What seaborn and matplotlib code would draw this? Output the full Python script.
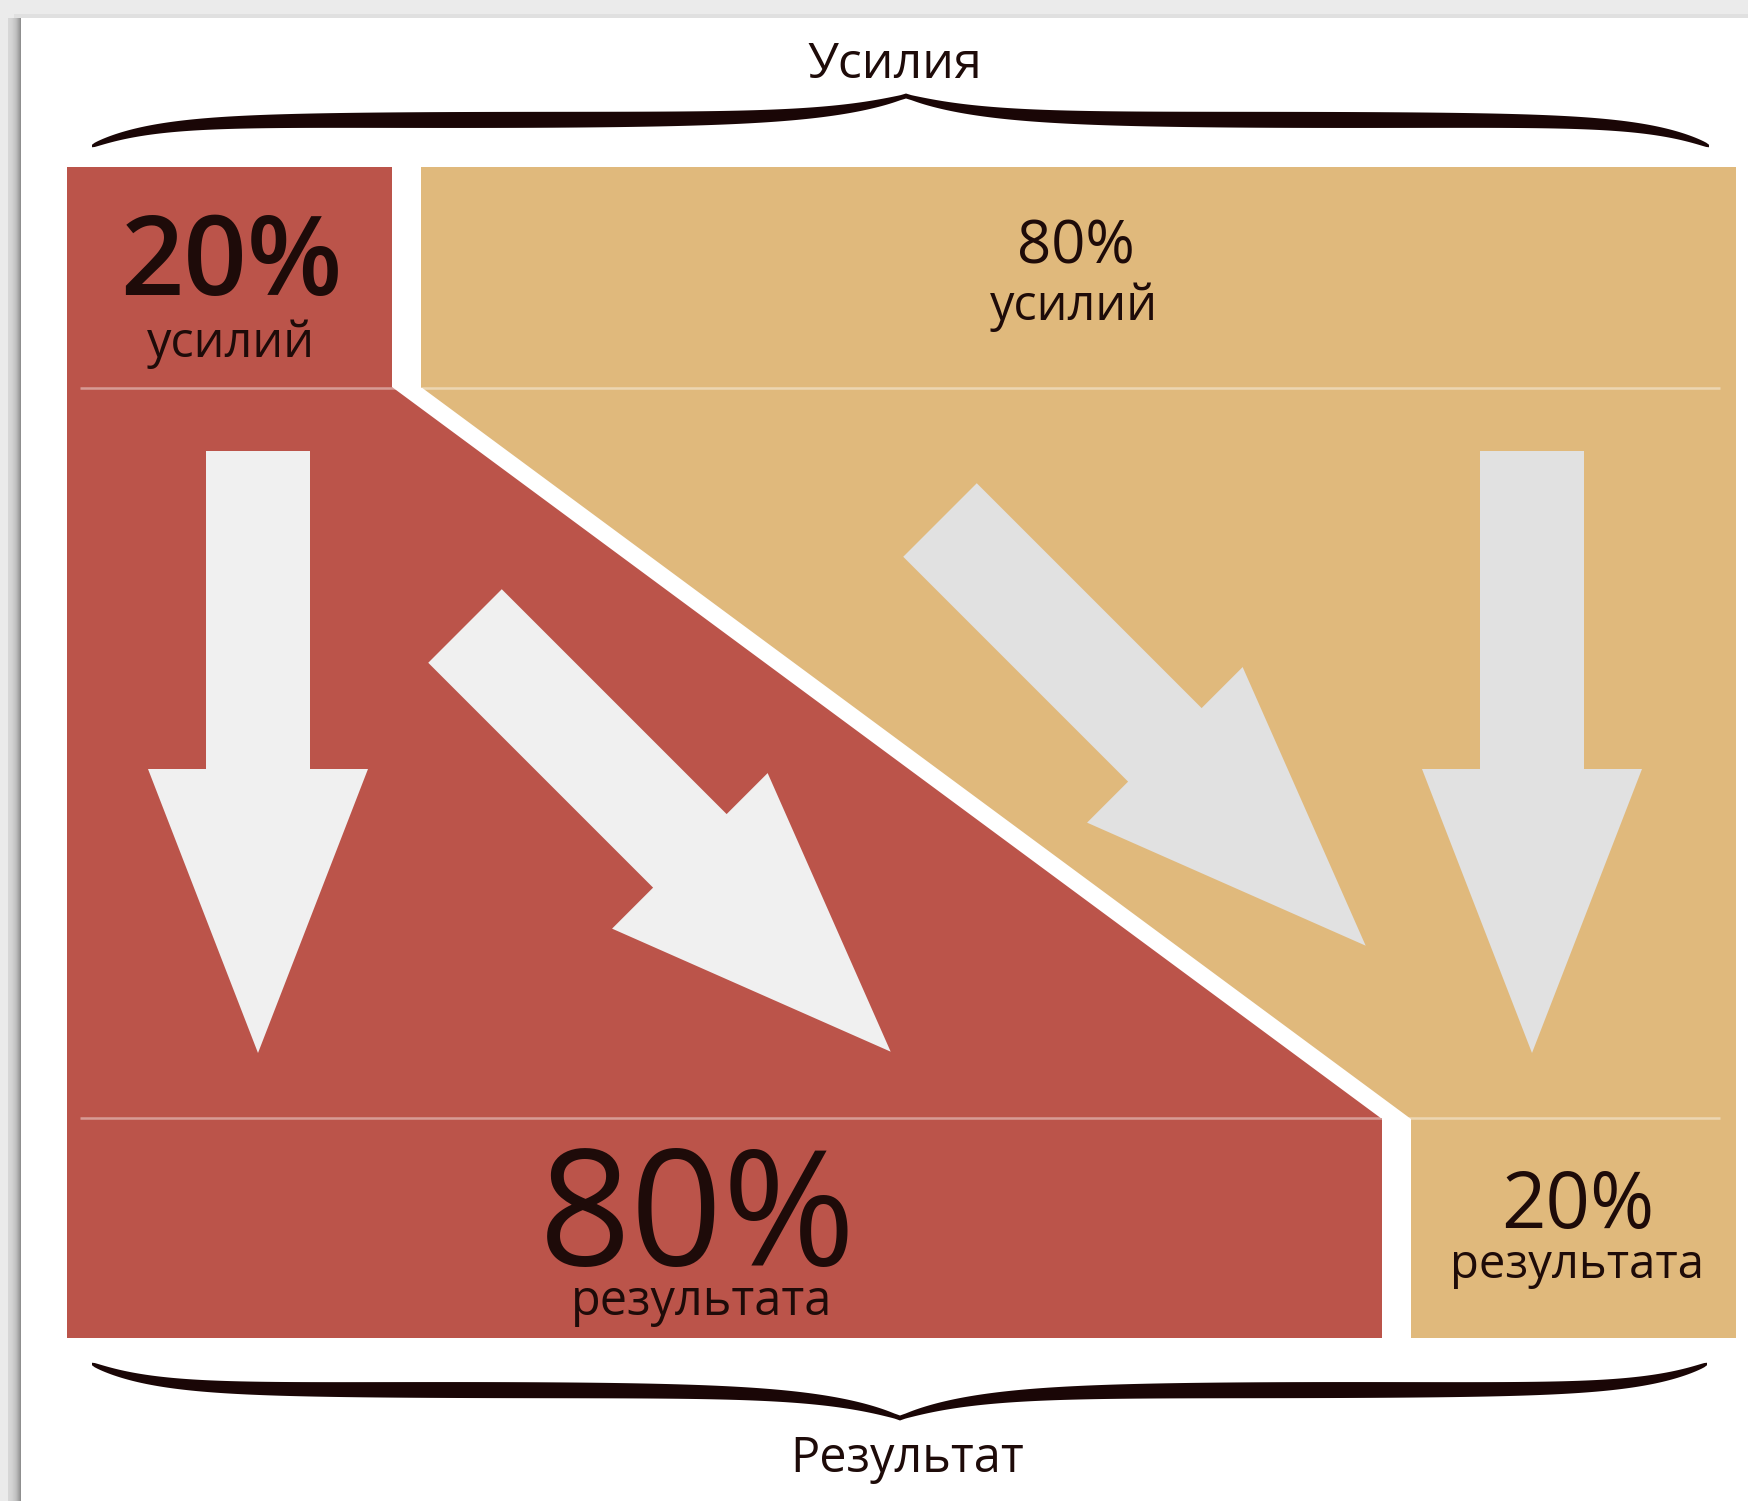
import numpy as np
import matplotlib
matplotlib.use("Agg")
import matplotlib.pyplot as plt
import seaborn as sns

# ---------------- data ----------------
effort_labels = ["20%", "80%"]
effort_words = ["усилий", "усилий"]
effort_share = [20, 80]
result_labels = ["80%", "20%"]
result_words = ["результата", "результата"]
result_share = [80, 20]
top_caption = "Усилия"
bottom_caption = "Результат"

# ---------------- style ----------------
sns.set_theme(style="white")
plt.rcParams["font.family"] = ["Open Sans", "DejaVu Sans"]

RED = "#BB544A"
TAN = "#E0B97C"
ARROW_ON_RED = "#F0F0F0"
ARROW_ON_TAN = "#E1E1E1"
TXT = "#1E0B09"
BRACE = "#1A0606"
PAGE_GREY = "#EBEBEB"

W_PX, H_PX = 1748, 1501
BOX_L, BOX_R = 67, 1736
SCALE_INSET = 9.5
ROW1_T, ROW1_B = 167, 388
ROW2_T, ROW2_B = 1118, 1338
GAP = 29


def xpos(pct):
    a = BOX_L + SCALE_INSET
    b = BOX_R - SCALE_INSET
    return a + (b - a) * pct / 100.0


fig = plt.figure(figsize=(W_PX / 100, H_PX / 100), dpi=100)
fig.patch.set_facecolor(PAGE_GREY)
ax = fig.add_axes([0, 0, 1, 1])
ax.set_facecolor(PAGE_GREY)
ax.set_xlim(0, W_PX)
ax.set_ylim(H_PX, 0)
ax.axis("off")
ax.add_patch(plt.Rectangle((0, 0), W_PX, H_PX, color=PAGE_GREY, lw=0, zorder=0))

# soft shadow to the left of the white page card
grad = np.linspace(0, 1, 64) ** 2
shadow = np.tile(grad, (8, 1))
ax.imshow(shadow, extent=(8, 21, H_PX, 18), cmap="Greys", vmin=-0.9, vmax=2.6,
          aspect="auto", zorder=0.2, interpolation="bilinear")
ax.add_patch(plt.Rectangle((14, 14), W_PX, 4, color="#E0E0E0", lw=0, zorder=0.3))
ax.add_patch(plt.Rectangle((21, 18), W_PX, H_PX, color="white", lw=0, zorder=0.5))
ax.set_xlim(0, W_PX)
ax.set_ylim(H_PX, 0)

# ---------------- rows (stacked horizontal bars) ----------------
s_top = xpos(np.cumsum(effort_share)[0])
s_bot = xpos(np.cumsum(result_share)[0])

top_left = [BOX_L, s_top + GAP / 2]
top_width = [s_top - GAP / 2 - BOX_L, BOX_R - (s_top + GAP / 2)]
ax.barh([(ROW1_T + ROW1_B) / 2] * 2, top_width, left=top_left,
        height=ROW1_B - ROW1_T, color=[RED, TAN], lw=0, zorder=1)

bot_left = [BOX_L, s_bot + GAP / 2]
bot_width = [s_bot - GAP / 2 - BOX_L, BOX_R - (s_bot + GAP / 2)]
ax.barh([(ROW2_T + ROW2_B) / 2] * 2, bot_width, left=bot_left,
        height=ROW2_B - ROW2_T, color=[RED, TAN], lw=0, zorder=1)

# middle: flow polygons connecting effort split to result split
ax.fill([BOX_L, s_top - GAP / 2, s_bot - GAP / 2, BOX_L],
        [ROW1_B - 1, ROW1_B - 1, ROW2_T + 1, ROW2_T + 1], color=RED, lw=0, zorder=1)
ax.fill([s_top + GAP / 2, BOX_R, BOX_R, s_bot + GAP / 2],
        [ROW1_B - 1, ROW1_B - 1, ROW2_T + 1, ROW2_T + 1], color=TAN, lw=0, zorder=1)

# thin separator lines
for yy in (ROW1_B, ROW2_T):
    ax.plot([80, 1720], [yy, yy], color="white", alpha=0.42, lw=1.8, zorder=2,
            solid_capstyle="butt")


# ---------------- arrows ----------------
def arrow(ox, oy, ang_deg, color):
    shaft_hw, shaft_len, head_hw, head_len = 52, 318, 110, 284
    local = np.array([(-shaft_hw, 0), (shaft_hw, 0), (shaft_hw, shaft_len),
                      (head_hw, shaft_len), (0, shaft_len + head_len),
                      (-head_hw, shaft_len), (-shaft_hw, shaft_len)], float)
    t = np.deg2rad(ang_deg)
    a = np.array([np.sin(t), np.cos(t)])      # along
    p = np.array([np.cos(t), -np.sin(t)])     # across
    pts = np.array([ox, oy]) + local[:, :1] * p + local[:, 1:] * a
    ax.fill(pts[:, 0], pts[:, 1], color=color, lw=0, zorder=3)


arrow(258, 451, 0, ARROW_ON_RED)
arrow(465, 626, 45, ARROW_ON_RED)
arrow(940, 520, 45, ARROW_ON_TAN)
arrow(1532, 451, 0, ARROW_ON_TAN)


# ---------------- braces ----------------
def brace(x_l, x_r, x_tip, y_end, y_flat, y_tip, tmax=16):
    def half(x0, x1):
        u = np.linspace(0, 1, 300)
        x = x0 + (x1 - x0) * u
        y = (y_flat + (y_end - y_flat) * np.exp(-u / 0.075)
             + (y_tip - y_flat) * np.exp(-(1 - u) / 0.095))
        t = 2.5 + (tmax - 2.5) * np.sin(np.pi * np.clip(u, 0, 1)) ** 0.45
        t = np.where(u > 0.5, np.maximum(t, 5), t)
        return x, y, t

    for x0 in (x_l, x_r):
        x, y, t = half(x0, x_tip)
        xs = np.concatenate([x, x[::-1]])
        ys = np.concatenate([y - t / 2, (y + t / 2)[::-1]])
        ax.fill(xs, ys, color=BRACE, lw=0, zorder=3)


brace(92, 1709, 906, 146, 120, 96)
brace(92, 1707, 900, 1364, 1390, 1418)

# ---------------- texts ----------------
ax.text(895, 78, top_caption, ha="center", va="baseline", fontsize=36, color=TXT)
ax.text(907, 1472, bottom_caption, ha="center", va="baseline", fontsize=35, color=TXT)

# effort labels
ax.text(231, 295, effort_labels[0], ha="center", va="baseline", fontsize=80,
        fontweight="semibold", color=TXT)
ax.text(231, 357, effort_words[0], ha="center", va="baseline", fontsize=35, color=TXT)
ax.text(1076, 264, effort_labels[1], ha="center", va="baseline", fontsize=43, color=TXT)
ax.text(1074, 320, effort_words[1], ha="center", va="baseline", fontsize=35, color=TXT)

# result labels
ax.text(698, 1265, result_labels[0], ha="center", va="baseline", fontsize=116, color=TXT)
ax.text(702, 1315, result_words[0], ha="center", va="baseline", fontsize=35, color=TXT)
ax.text(1578, 1228, result_labels[1], ha="center", va="baseline", fontsize=56, color=TXT)
ax.text(1577, 1278, result_words[1], ha="center", va="baseline", fontsize=34, color=TXT)

fig.savefig("out.png", dpi=100, facecolor=fig.get_facecolor())
